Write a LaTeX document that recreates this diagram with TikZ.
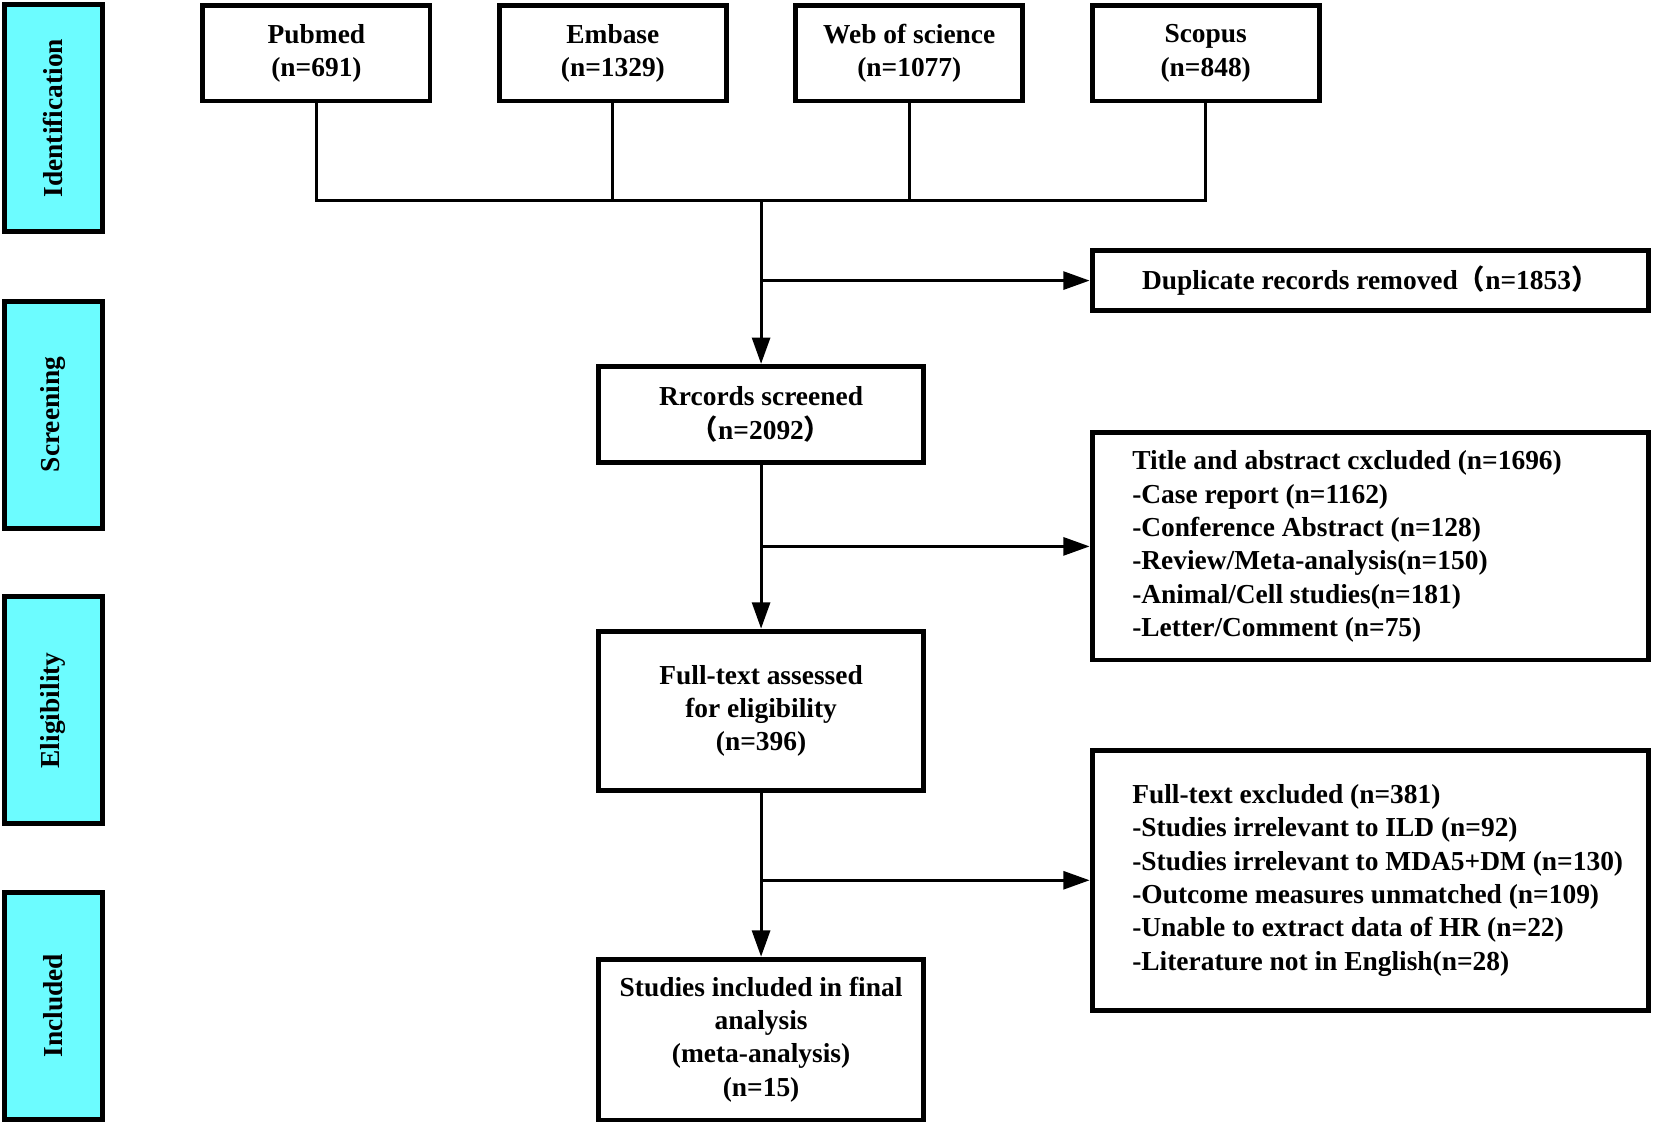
\documentclass[tikz,border=0pt]{standalone}
\usepackage{fontspec}
\setmainfont{Liberation Serif}
\newfontfamily\cjkfont{Noto Sans CJK SC}
\newcommand\flp{{\cjkfont （}}
\newcommand\frp{{\cjkfont ）}}
\usetikzlibrary{arrows.meta}
\definecolor{sidecyan}{RGB}{108,252,255}
\tikzset{
  txt/.style={font=\bfseries\fontsize{13}{15.8}\selectfont},
  box/.style={draw, line width=2.3pt, align=center, inner sep=0pt, txt},
  listbox/.style={draw, line width=2.3pt, inner sep=0pt, minimum width=263.7pt},
  listtxt/.style={align=left, inner sep=0pt, anchor=west, txt},
  side/.style={draw, line width=2.4pt, fill=sidecyan, rotate=90, inner sep=0pt,
    minimum width=107.6pt, minimum height=46.5pt, txt},
  conn/.style={line width=1.5pt},
  arr/.style={conn, -{Triangle[length=12.5pt,width=8.5pt]}}
}
\begin{document}
\begin{tikzpicture}[x=0.5pt, y=-0.5pt]
\useasboundingbox (0,0) rectangle (1568,1068);
% side labels
\node[side] (sid) at (50.5,112) {Identification};
\node[side] (sscr) at (50.5,393) {Screening};
\node[side] (selg) at (50.5,673.5) {Eligibility};
\node[side] (sinc) at (50.5,953.5) {Included};
% sources
\node[box, minimum width=107.7pt, minimum height=45.2pt] (pub) at (300,50.5) {Pubmed\\(n=691)};
\node[box, minimum width=107.7pt, minimum height=45.2pt] (emb) at (581,50.5) {Embase\\(n=1329)};
\node[box, minimum width=107.7pt, minimum height=45.2pt] (wos) at (862,50.5) {Web of science\\(n=1077)};
\node[box, minimum width=107.7pt, minimum height=45.2pt] (sco) at (1143,50.5) {Scopus\\(n=848)};
% main column
\node[box, minimum width=154.2pt, minimum height=45.7pt] (scr) at (721.5,393) {Rrcords screened\\\flp n=2092\frp};
\node[box, minimum width=154.2pt, minimum height=75.7pt] (fta) at (721.5,674) {Full-text assessed\\for eligibility\\(n=396)};
\node[box, minimum width=154.2pt, minimum height=76.2pt] (inc) at (721.5,985.5) {Studies included in final\\analysis\\(meta-analysis)\\(n=15)};
% exclusion boxes
\node[box, minimum width=263.7pt, minimum height=28.7pt] (dup) at (1299,266) {Duplicate records removed\flp n=1853\frp};
\node[listbox, minimum height=107.7pt] (tae) at (1299,518) {};
\node[listtxt] (taet) at ([xshift=20pt]tae.west) {Title and abstract cxcluded (n=1696)\\
-Case report (n=1162)\\
-Conference Abstract (n=128)\\
-Review/Meta-analysis(n=150)\\
-Animal/Cell studies(n=181)\\
-Letter/Comment (n=75)};
\node[listbox, minimum height=123.2pt] (fte) at (1299,834.5) {};
\node[listtxt] (ftet) at ([xshift=20pt]fte.west) {Full-text excluded (n=381)\\
-Studies irrelevant to ILD (n=92)\\
-Studies irrelevant to MDA5+DM (n=130)\\
-Outcome measures unmatched (n=109)\\
-Unable to extract data of HR (n=22)\\
-Literature not in English(n=28)};
% connectors
\coordinate (hl) at (300,190);
\coordinate (hr) at (1143,190);
\draw[conn] (pub.south) -- (hl) -- (hr) -- (sco.south);
\draw[conn] (emb.south) -- (emb.south |- hl);
\draw[conn] (wos.south) -- (wos.south |- hl);
\draw[arr] (scr.north |- hl) -- (scr.north);
\draw[arr] (scr.north |- dup.west) -- (dup.west);
\draw[arr] (scr.south) -- (fta.north);
\draw[arr] (scr.south |- tae.west) -- (tae.west);
\draw[arr] (fta.south) -- (inc.north);
\draw[arr] (fta.south |- fte.west) -- (fte.west);
\end{tikzpicture}
\end{document}
